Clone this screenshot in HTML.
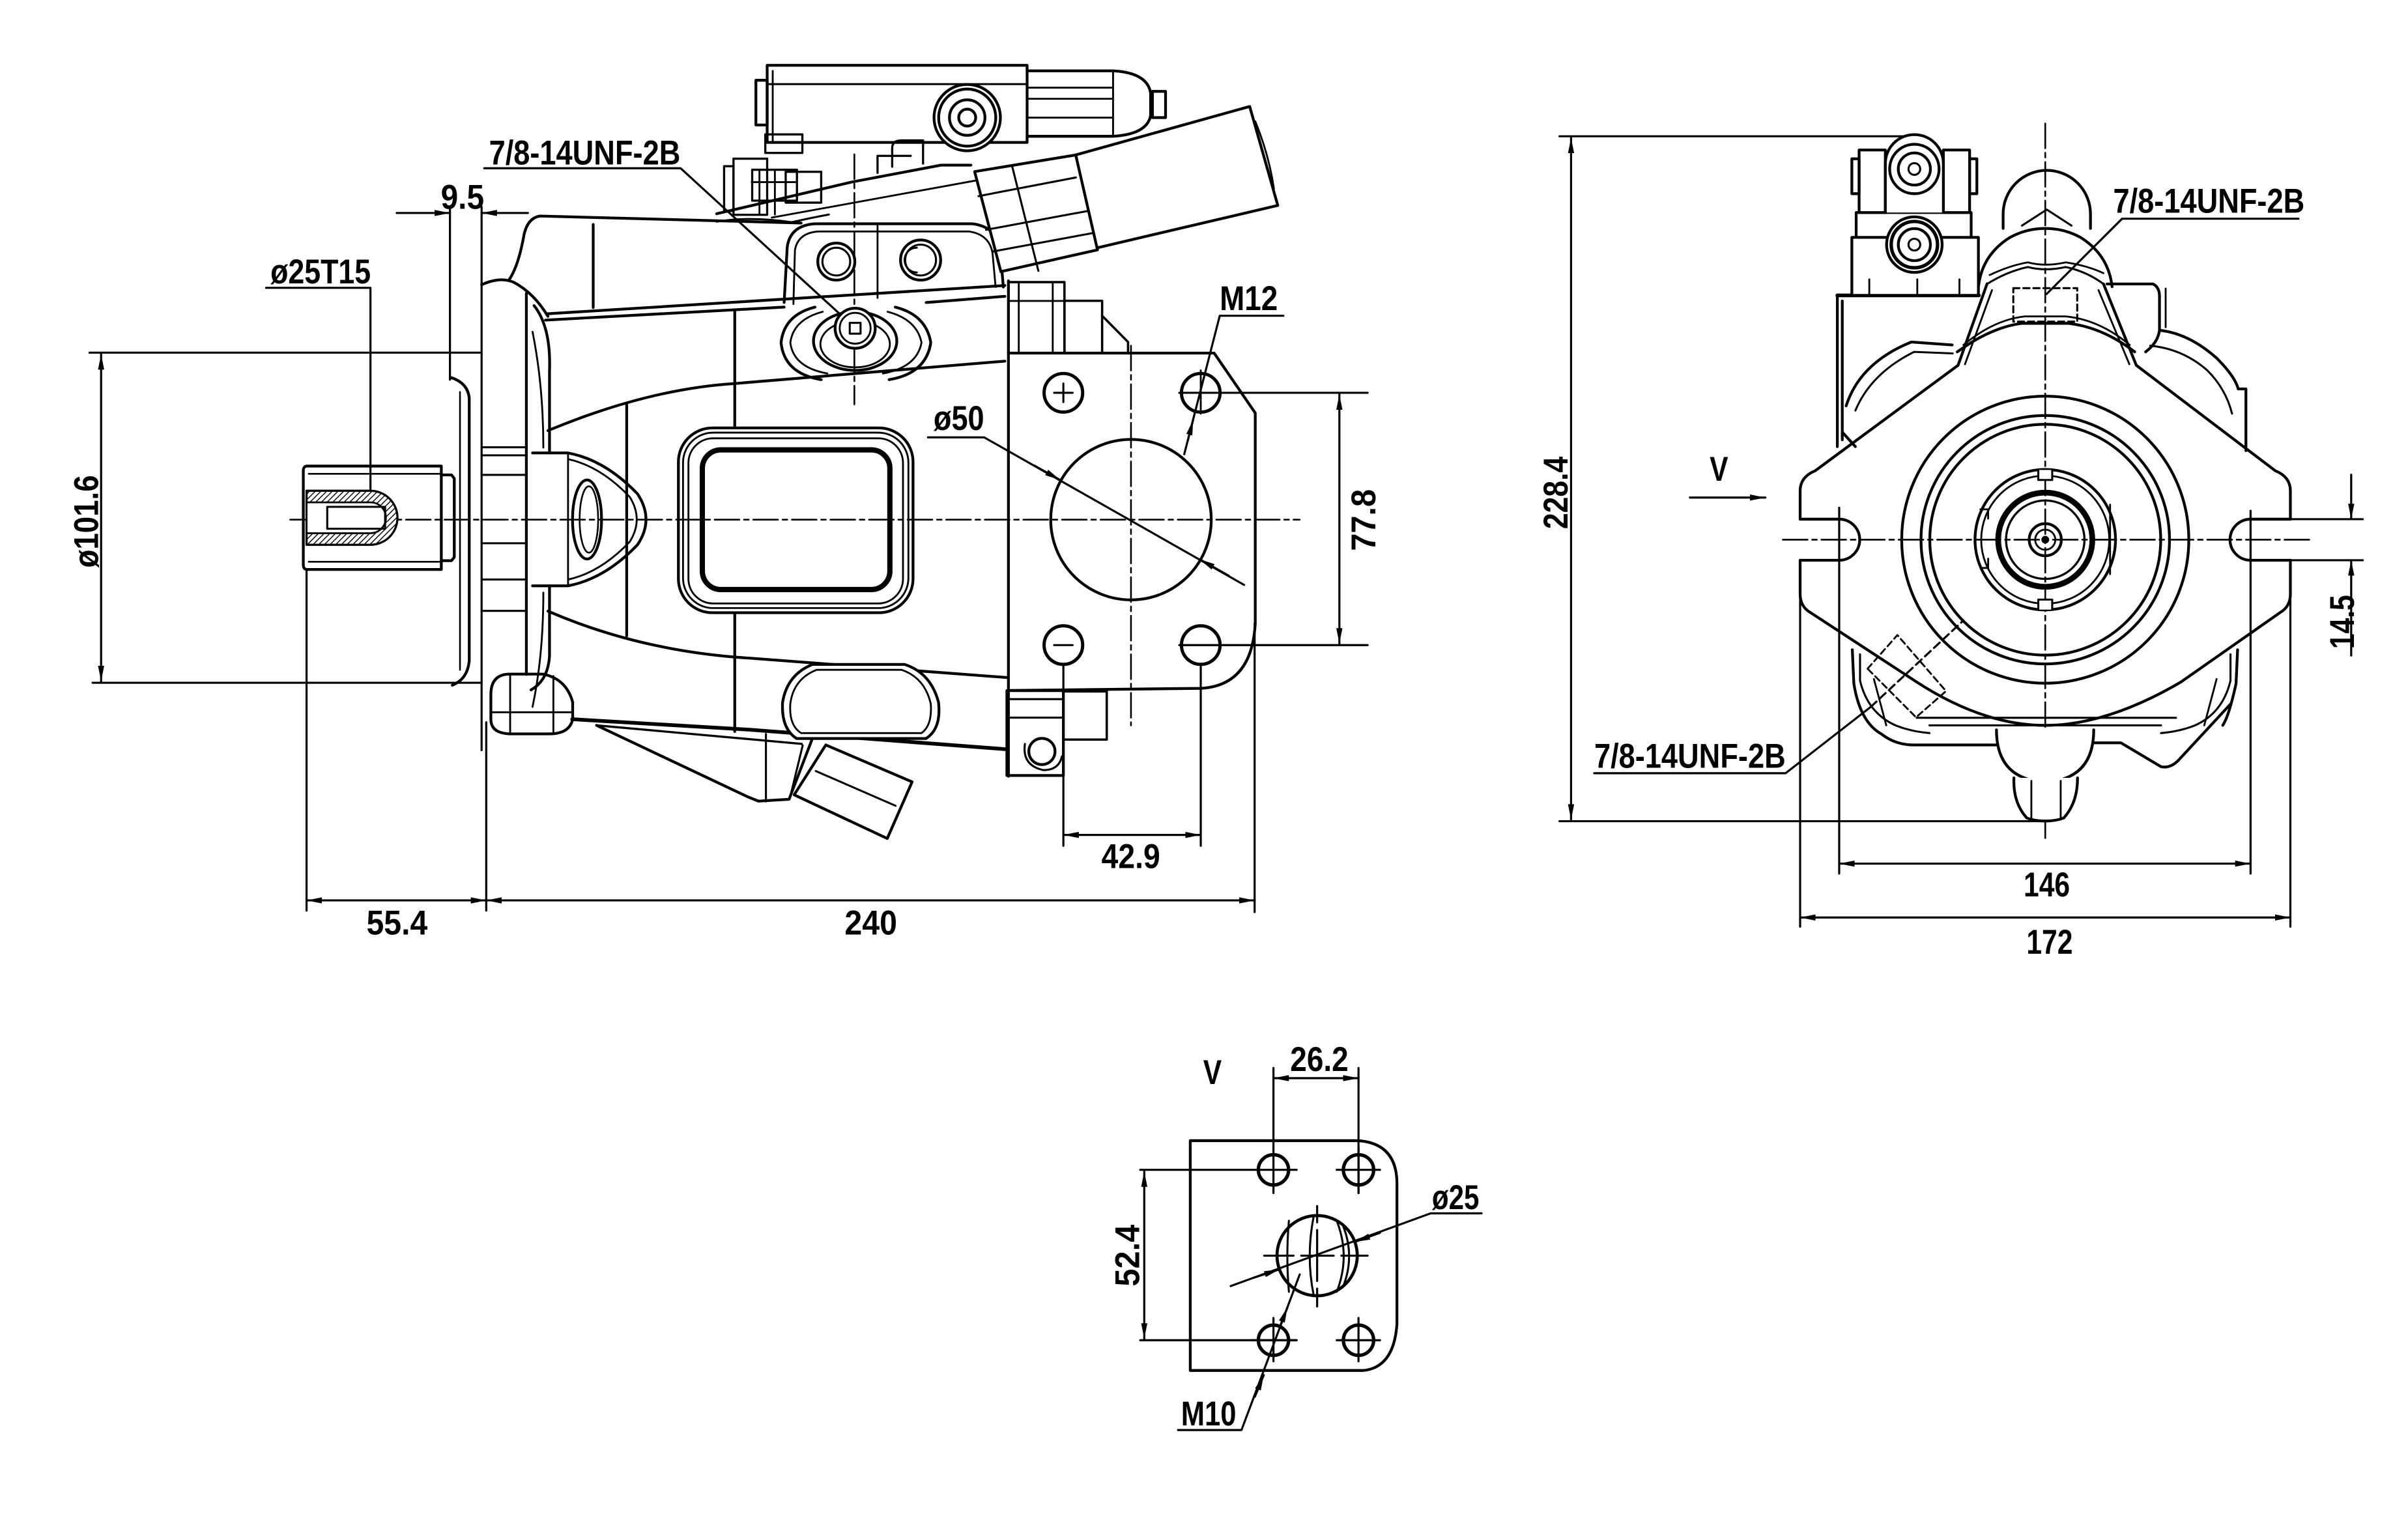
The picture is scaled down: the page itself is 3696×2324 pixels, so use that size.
<!DOCTYPE html>
<html><head><meta charset="utf-8"><title>Pump dimension drawing</title>
<style>
html,body{margin:0;padding:0;background:#fff;width:3696px;height:2324px;overflow:hidden}
svg{display:block}
text{font-family:"Liberation Sans",Arial,sans-serif;font-weight:bold;font-size:22.5px;fill:#000;stroke:none}
</style></head><body>
<svg xmlns="http://www.w3.org/2000/svg" width="3696" height="2324" viewBox="0 0 1560 981" preserveAspectRatio="none">
<defs>
<marker id="a" viewBox="0 0 10 4" refX="10" refY="2" markerWidth="10" markerHeight="4" markerUnits="userSpaceOnUse" orient="auto-start-reverse"><path d="M0,0L10,2L0,4z" fill="#000" stroke="none"/></marker>
<pattern id="h" width="2.6" height="2.6" patternUnits="userSpaceOnUse" patternTransform="rotate(45)"><rect width="2.6" height="2.6" fill="#fff"/><line x1="0" y1="0" x2="0" y2="2.6" stroke="#000" stroke-width="1.2"/></pattern>
</defs>
<rect width="1560" height="981" fill="#fff"/>

<g fill="none" stroke="#000" stroke-width="1.8" stroke-linejoin="round" stroke-linecap="round">

<!-- ================= LEFT VIEW : DIMENSIONS ================= -->
<g stroke-width="1.35">
  <line x1="58" y1="228.5" x2="311" y2="228.5"/>
  <line x1="60" y1="442.4" x2="312" y2="442.4"/>
  <line x1="65.5" y1="229.5" x2="65.5" y2="441.4" marker-start="url(#a)" marker-end="url(#a)"/>
  <line x1="257" y1="138" x2="291.5" y2="138" marker-end="url(#a)"/>
  <line x1="342" y1="138" x2="312" y2="138" marker-end="url(#a)"/>
  <line x1="291.5" y1="134" x2="291.5" y2="246"/>
  <line x1="312" y1="134" x2="312" y2="486"/>
  <polyline points="172.4,186.5 240,186.5 240,340"/>
  <polyline points="313.7,109 440.9,109 551.2,210"/>
  <line x1="198.6" y1="369" x2="198.6" y2="590"/>
  <line x1="315" y1="468" x2="315" y2="590"/>
  <line x1="812.8" y1="404" x2="812.8" y2="591"/>
  <line x1="198.6" y1="583.4" x2="315" y2="583.4" marker-start="url(#a)" marker-end="url(#a)"/>
  <line x1="315" y1="583.4" x2="812.8" y2="583.4" marker-start="url(#a)" marker-end="url(#a)"/>
  <line x1="688.9" y1="431" x2="688.9" y2="548"/>
  <line x1="777.9" y1="431" x2="777.9" y2="548"/>
  <line x1="688.9" y1="541" x2="777.9" y2="541" marker-start="url(#a)" marker-end="url(#a)"/>
  <line x1="764" y1="254.5" x2="886" y2="254.5"/>
  <line x1="764" y1="418" x2="886" y2="418"/>
  <line x1="867.7" y1="255.5" x2="867.7" y2="417" marker-start="url(#a)" marker-end="url(#a)"/>
  <polyline points="831.4,204.6 790.2,204.6 767.2,294.3"/>
  <line x1="769.5" y1="285.5" x2="773" y2="272" marker-end="url(#a)"/>
  <polyline points="601.2,283.4 637.6,283.4 806,379"/>
  <line x1="670" y1="301.6" x2="686.8" y2="311" marker-end="url(#a)"/>
  <line x1="796" y1="373" x2="777.2" y2="362.4" marker-end="url(#a)"/>
</g>
<g stroke-width="1.1" stroke-dasharray="16 3 3 3">
  <line x1="188" y1="336.7" x2="842" y2="336.7"/>
  <line x1="732.7" y1="224" x2="732.7" y2="470"/>
  <line x1="553.5" y1="100" x2="553.5" y2="262"/>
</g>

<!-- ================= LEFT VIEW : BODY ================= -->
<path d="M199,302H285.9V369H199Q196.5,369 196.5,366V305Q196.5,302 199,302Z"/>
<path d="M285.9,307.7H292.5L294.3,310V361L292.5,363.3H285.9"/>
<path d="M200,307H285M200,364H285" stroke-width="1.1"/>
<path d="M198.6,318H240A17.5,17.5 0 0 1 240,353H198.6Z" fill="url(#h)" stroke-width="1.4"/>
<path d="M198.6,325.5H240A10,10 0 0 1 240,345.5H198.6Z" fill="#fff" stroke-width="1.2"/>
<rect x="212" y="328.4" width="37.5" height="14.2" stroke-width="1.3"/>
<path d="M292,244.6Q303,248 304,258V428Q303,440 293,444"/>
<path d="M298,254V434" stroke-width="1.1"/>
<path d="M312,184.5Q324,179 333,183Q346,190 355,205"/>
<path d="M330,181Q336,172 339.5,152Q342,141 350,140L519,144.5"/>
<path d="M341,190V437"/>
<path d="M346,198Q357,212 356,240V293.5"/>
<path d="M356,379.6V425Q355,441 344,447"/>
<path d="M345,215Q352,250 352,290M345,458Q352,425 352,384" stroke-width="1.2"/>
<path d="M313,289.8H341M313,295H341M313,307.7H341M313,352H341M313,375.5H341M313,395.8H341" stroke-width="1.3"/>
<path d="M345,293.5H368Q392,298 413,320Q424,336.6 413,353Q392,375 368,379.6H345"/>
<path d="M368,297.5Q389,302 408,322Q417,336.6 408,351Q389,371 368,375.5" stroke-width="1.2"/>
<line x1="368" y1="293.5" x2="368" y2="379.6" stroke-width="1.2"/>
<ellipse cx="380.3" cy="336.6" rx="9.4" ry="25.6"/>
<ellipse cx="381.5" cy="336.6" rx="6" ry="21.5" stroke-width="1.1"/>
<path d="M355,279Q420,252 476,248.5L651,234"/>
<path d="M355,396Q415,422 485,426.4L652.3,439"/>
<line x1="406" y1="262" x2="406" y2="412"/>
<line x1="476" y1="202" x2="476" y2="277.3"/>
<line x1="476" y1="397" x2="476" y2="474"/>
<line x1="384.3" y1="145.4" x2="384.3" y2="199.3"/>
<line x1="354.7" y1="203.3" x2="651" y2="185"/>
<line x1="353.4" y1="207.4" x2="508" y2="199"/>
<line x1="600" y1="196" x2="651" y2="192"/>
<rect x="439.5" y="277.3" width="152" height="119.7" rx="22"/>
<rect x="442.5" y="280.3" width="146" height="113.7" rx="19.5" stroke-width="1.2"/>
<rect x="446" y="284" width="139" height="107" rx="16" stroke-width="1.2"/>
<rect x="455" y="291.5" width="121.5" height="90.5" rx="12" stroke-width="3.4"/>
<path d="M528,199Q508,204 506,222Q508,242 532,246"/>
<path d="M533,202Q514,207 512,222Q514,238 536,242" stroke-width="1.2"/>
<path d="M580,199Q600,204 603,222Q600,242 576,246"/>
<path d="M575,202Q594,207 597,222Q594,238 572,242" stroke-width="1.2"/>
<ellipse cx="554" cy="221" rx="27" ry="19"/>
<ellipse cx="554" cy="223" rx="22.5" ry="15" stroke-width="1.2"/>
<circle cx="554" cy="212.7" r="13" fill="#fff"/>
<circle cx="554" cy="212.7" r="10" stroke-width="1.2"/>
<rect x="550.5" y="209.2" width="7" height="7" stroke-width="1.3"/>
<path d="M508,196L510,160Q512,146 528,145L630,145Q646,147 648,162L650,186"/>
<path d="M514,197L515,162Q517,151 530,150L628,150Q641,152 643,164L645,186" stroke-width="1.2"/>
<line x1="568.5" y1="146" x2="568.5" y2="193" stroke-width="1.2"/>
<circle cx="541.8" cy="169.5" r="12"/>
<circle cx="541.8" cy="169.5" r="9" stroke-width="1.3"/>
<circle cx="596.4" cy="168.5" r="13"/>
<circle cx="596.4" cy="168.5" r="10" stroke-width="1.3"/>
<path d="M594,160.5A8,8 0 0 0 594,176.5" stroke-width="1.2"/>
<polyline points="464.3,138.5 551.5,118 609.6,107 629,107"/>
<path d="M464.3,143.6Q486,140 512.8,144Q526,141 537,139" stroke-width="1.3"/>
<path d="M500,141L632,117" stroke-width="1.2"/>
<rect x="497" y="42.3" width="168.4" height="50"/>
<line x1="500.6" y1="46" x2="500.6" y2="92" stroke-width="1.2"/>
<line x1="497" y1="54.5" x2="665" y2="54.5" stroke-width="1.3"/>
<rect x="489.7" y="52" width="7.3" height="29"/>
<path d="M665.4,45.9H721.1Q743,47 745.4,60V75Q743,87 721.1,88.3H665.4"/>
<path d="M665.4,56.8H721M665.4,64H721M665.4,76.2H721M721.1,46V88.3" stroke-width="1.2"/>
<rect x="746.6" y="59.2" width="8.5" height="17"/>
<circle cx="626.6" cy="76.2" r="21.5" fill="#fff"/>
<circle cx="626.6" cy="76.2" r="18.5" stroke-width="1.8"/>
<circle cx="626.6" cy="76.2" r="11.5"/>
<circle cx="626.6" cy="76.2" r="5.5"/>
<path d="M578,108V96Q578,91 584,91H598V106" stroke-width="1.4"/>
<path d="M568.5,112V101H590" stroke-width="1.4"/>
<rect x="475.2" y="102.8" width="21.8" height="36.4" stroke-width="1.4"/>
<rect x="469.1" y="107.7" width="6.1" height="29" stroke-width="1.4"/>
<rect x="487.3" y="110" width="29" height="20" stroke-width="1.4"/>
<rect x="495.8" y="87.1" width="24" height="12" stroke-width="1.4"/>
<rect x="509" y="111.3" width="23" height="20" stroke-width="1.4"/>
<path d="M487,118H516M492,110V139M502,110V139" stroke-width="1.2"/>
<polygon points="696.9,100.4 809.6,69 827.8,133.1 709,161" fill="#fff"/>
<path d="M813.2,78.6Q822,100 825.3,122.2" stroke-width="1.2"/>
<polygon points="631.4,111.2 696.9,100.4 711,161.9 648.4,176" fill="#fff"/>
<path d="M655.7,107.7L672.7,175.5M633.9,127.1L697,115M638.8,148.9L704.2,136.8M643,163L708,151" stroke-width="1.3"/>
<rect x="653.3" y="182.8" width="36.3" height="46" stroke-width="1.5"/>
<path d="M660,183V228.8M682,183V228.8M653.3,195H689.6" stroke-width="1.2"/>
<path d="M689.6,228V194.9H714V228" stroke-width="1.5"/>
<path d="M714,204.6L730.8,221.6V229" stroke-width="1.5"/>
<line x1="653.3" y1="182" x2="653.3" y2="503"/>
<path d="M653.3,228.8H786.6L813.2,267.6V404Q811,444 778.3,446L653.3,447.4"/>
<circle cx="688.9" cy="254.5" r="12.5" stroke-width="2.1"/>
<path d="M688.9,248.5V260.5M682.9,254.5H694.9" stroke-width="1.3"/>
<circle cx="777.9" cy="254.5" r="12.5" stroke-width="2.1"/>
<line x1="777.9" y1="240" x2="777.9" y2="268" stroke-width="1.2"/>
<circle cx="688.9" cy="418" r="12.5" stroke-width="2.1"/>
<path d="M682.9,418H694.9" stroke-width="1.3"/>
<circle cx="777.9" cy="418" r="12.5" stroke-width="2.1"/>
<circle cx="732.7" cy="336.7" r="52"/>
<rect x="652.3" y="447.5" width="36.6" height="55"/>
<path d="M652.3,453H688.9M652.3,465H688.9" stroke-width="1.3"/>
<path d="M688.9,448H717V479.2H688.9" stroke-width="1.5"/>
<circle cx="675" cy="486.9" r="8.5"/>
<path d="M664,482Q662,496 676,499Q686,499 688,490" stroke-width="1.3"/>
<path d="M318,450Q318,437 330,436.8H352Q367,440 371,455V466Q369,475.5 356,475.5H330Q318,475 318,466Z"/>
<path d="M330.5,437V475.5M358.5,438V475.5M318,461.5H371" stroke-width="1.2"/>
<path d="M370.7,466L485.4,472.8L652.3,485.5" stroke-width="2.4"/>
<path d="M386.5,470L519.4,482" stroke-width="1.4"/>
<path d="M526.4,430.5H586Q603,436 608,455Q610,472 600,478.5H516Q506,472 507,455Q510,437 526.4,430.5Z" fill="#fff"/>
<path d="M529,434H584Q599,439 603,456Q604,470 597,475H519Q511,470 512,456Q514,440 529,434Z" stroke-width="1.2"/>
<polyline points="386.5,470 484.4,516.3 491.4,519.1 511.2,517.9 526.3,478.5"/>
<line x1="496.2" y1="475.6" x2="496.2" y2="519.3" stroke-width="1.3"/>
<polygon points="535,482.7 590.9,506.6 574.8,543.3 514.5,515" fill="#fff"/>
<path d="M528.5,499.6L580.2,522.1M520,483L512,516" stroke-width="1.3"/>

<!-- ================= RIGHT VIEW ================= -->
<g stroke-width="1.35">
  <line x1="1010.3" y1="88.3" x2="1245" y2="88.3"/>
  <line x1="1010.3" y1="532.1" x2="1322" y2="532.1"/>
  <line x1="1017.8" y1="89.3" x2="1017.8" y2="531.1" marker-start="url(#a)" marker-end="url(#a)"/>
  <line x1="1094.8" y1="322.4" x2="1143.7" y2="322.4" marker-end="url(#a)"/>
  <line x1="1191.5" y1="329" x2="1191.5" y2="566"/>
  <line x1="1458" y1="331" x2="1458" y2="566"/>
  <line x1="1191.5" y1="559.6" x2="1458" y2="559.6" marker-start="url(#a)" marker-end="url(#a)"/>
  <line x1="1166.2" y1="388" x2="1166.2" y2="600.4"/>
  <line x1="1483.8" y1="388" x2="1483.8" y2="600.4"/>
  <line x1="1166.2" y1="594.5" x2="1483.8" y2="594.5" marker-start="url(#a)" marker-end="url(#a)"/>
  <line x1="1470" y1="336.4" x2="1530.7" y2="336.4"/>
  <line x1="1470" y1="363" x2="1530.7" y2="363"/>
  <line x1="1523.2" y1="307.6" x2="1523.2" y2="336.4" marker-end="url(#a)"/>
  <line x1="1523.2" y1="424.7" x2="1523.2" y2="363" marker-end="url(#a)"/>
  <polyline points="1489,141.7 1374.8,141.7 1325.9,190.5"/>
  <polyline points="1032.8,501 1156.8,501 1212,458"/>
  <line x1="1212" y1="458" x2="1272" y2="402" stroke-dasharray="5 3"/>
</g>
<g stroke-width="1.1" stroke-dasharray="16 3 3 3">
  <line x1="1325" y1="80" x2="1325" y2="543"/>
  <line x1="1155" y1="349.7" x2="1498" y2="349.7"/>
</g>

<path d="M1166.2,336.4V318Q1166.2,309 1176,305L1268.5,236.7"/>
<path d="M1166.2,363V385Q1166.2,393 1173,397L1241.7,441.9Q1285,470 1325,470Q1365,470 1412.9,441.9L1477,397Q1483.8,393 1483.8,385V363"/>
<path d="M1483.8,336.4V318Q1483.8,309 1474,305L1384,236.7"/>
<path d="M1166.2,336.4H1191.5A13.3,13.3 0 0 1 1191.5,363H1166.2"/>
<path d="M1483.8,336.4H1458A13.3,13.3 0 0 0 1458,363H1483.8"/>
<path d="M1268.5,236.7L1287.3,183.9M1384,236.7L1362.7,183.9"/>
<path d="M1273,236L1290.5,188M1379.5,236L1359.5,188" stroke-width="1.2"/>
<path d="M1281.7,185.8Q1284,165 1302.4,153.7Q1313,148 1325,148Q1337,148 1347.6,153.7Q1366,165 1368.3,185.8"/>
<path d="M1287.3,184Q1300,176 1313.7,173Q1325,176 1338.2,173Q1352,176 1362.7,184" stroke-width="1.3"/>
<path d="M1289,178.2Q1302,172 1313.7,170Q1325,173 1338.2,170Q1352,172 1362.7,177" stroke-width="1.2"/>
<path d="M1297.7,148V138.7A28.3,28.3 0 0 1 1354.3,138.7V148"/>
<path d="M1309.9,146.2L1326,135.8L1342,146.2" stroke-width="1.3"/>
<rect x="1304.3" y="186.7" width="41.4" height="21.7" stroke-width="1.3" stroke-dasharray="4 2.5"/>
<path d="M1268,228Q1290,212 1310,209.5H1340Q1362,212 1383,228"/>
<path d="M1272,223.5Q1292,207 1312,205H1338Q1360,207 1379.7,223.5" stroke-width="1.2"/>
<path d="M1190.3,191.4H1282" stroke-width="2.4"/>
<path d="M1190.3,191.4V289.4M1193.5,195V285M1193.5,280L1202,289.4" />
<rect x="1199.7" y="153.8" width="82" height="37.6" fill="#fff"/>
<path d="M1211,181V191.4M1242.1,181V191.4M1269.4,181V191.4" stroke-width="1.2"/>
<rect x="1202.5" y="137.7" width="74.5" height="16.1" fill="#fff"/>
<rect x="1204.4" y="97.2" width="17" height="40.5" fill="#fff"/>
<rect x="1259" y="97.2" width="17" height="40.5" fill="#fff"/>
<rect x="1199.7" y="102.9" width="4.7" height="22.6"/>
<rect x="1276" y="102.9" width="4.7" height="22.6"/>
<path d="M1221.4,137.7V106A18.8,18.8 0 0 1 1259,106V137.7" fill="#fff"/>
<circle cx="1240.2" cy="109.5" r="16"/>
<circle cx="1240.2" cy="109.5" r="10.4"/>
<circle cx="1240.2" cy="109.5" r="3.8" stroke-width="1.3"/>
<circle cx="1240.2" cy="158.5" r="18" fill="#fff"/>
<circle cx="1240.2" cy="158.5" r="15" stroke-width="2.2"/>
<circle cx="1240.2" cy="158.5" r="10.4"/>
<circle cx="1240.2" cy="158.5" r="3.8" stroke-width="1.3"/>
<path d="M1365,184H1394.8Q1399,186 1399,192V214Q1398,222 1390,228"/>
<path d="M1399,214Q1418,216 1436,232Q1448,244 1450,252H1455V292"/>
<path d="M1393,224Q1414,226 1430,240Q1442,252 1446,268" stroke-width="1.3"/>
<path d="M1403,187V212" stroke-width="1.2"/>
<path d="M1196,263Q1205,235 1238.3,221.6L1264.7,223.5"/>
<path d="M1202,266Q1212,242 1240,228L1265,229" stroke-width="1.3"/>
<circle cx="1325" cy="349.7" r="93"/>
<circle cx="1325" cy="349.7" r="80.5"/>
<circle cx="1325" cy="349.7" r="74.8"/>
<circle cx="1325" cy="349.7" r="45.5"/>
<circle cx="1325" cy="349.7" r="41.5" stroke-width="1.2"/>
<path d="M1320.5,304.5V311H1329.5V304.5M1320.5,395V388.5H1329.5V395" stroke-width="1.3" fill="#fff"/>
<path d="M1283,330H1288V336M1283,368H1288V362M1367,327V372" stroke-width="1.2"/>
<circle cx="1325" cy="349.7" r="30.5" stroke-width="3.7"/>
<circle cx="1325" cy="349.7" r="25.4" stroke-width="1.4"/>
<circle cx="1325" cy="349.7" r="10.4"/>
<circle cx="1325" cy="349.7" r="6.5" stroke-width="1.2"/>
<circle cx="1325" cy="349.7" r="1.6" fill="#000"/>
<path d="M1200,421L1201,443Q1205,468 1219,475.7Q1228,482.7 1240,482.7H1293.4"/>
<path d="M1205,424V441Q1210,462 1228,470Q1238,474 1250,475" stroke-width="1.3"/>
<path d="M1449.6,421L1448.6,443Q1444,464 1440,470"/>
<path d="M1445,424V441Q1440,462 1422,470Q1412,474 1400,475" stroke-width="1.3"/>
<path d="M1356.4,481.3H1374L1400,496.8Q1406,498 1411.3,492.6L1445.2,456"/>
<path d="M1241.7,465.1H1409.7M1250,470H1400" stroke-width="1.3"/>
<path d="M1214,440L1222,470M1436,440L1428,470" stroke-width="1.2"/>
<path d="M1209.9,433.3L1229.2,411.5L1260.7,447.8L1241.3,464.8Z" stroke-width="1.2" stroke-dasharray="4 2.5"/>
<path d="M1293.4,472.9Q1293.4,505 1325,506.7Q1356.4,505 1356.4,472.9" fill="#fff"/>
<path d="M1304.7,504Q1304,520 1313,530Q1318,532 1325,532Q1332,532 1337,530Q1346,520 1345.9,504" fill="#fff"/>
<path d="M1316,506V531M1335,506V531" stroke-width="1.2"/>

<!-- ================= BOTTOM VIEW "V" ================= -->
<path d="M771.1,739.1H880Q905,741 905,767V858Q903,886 883.3,888H771.1Z"/>
<g stroke-width="1.35">
  <line x1="825" y1="692" x2="825" y2="773"/>
  <line x1="880.1" y1="692" x2="880.1" y2="773"/>
  <line x1="825" y1="698.6" x2="880.1" y2="698.6" marker-start="url(#a)" marker-end="url(#a)"/>
  <line x1="738.7" y1="758" x2="840" y2="758"/>
  <line x1="738.7" y1="868.4" x2="840" y2="868.4"/>
  <line x1="741.3" y1="759" x2="741.3" y2="867.4" marker-start="url(#a)" marker-end="url(#a)"/>
  <path d="M866,758H894M880.1,773V744M811,868.4H840M825,854V882M866,868.4H894M880.1,854V882"/>
  <path d="M819,813.6H838M843,813.6H864M869,813.6H886M853.3,781.5V792M853.3,797V830M853.3,835V846.5"/>
  <polyline points="797.3,833.3 926.8,786.2 959.8,786.2"/>
  <line x1="812" y1="828" x2="828.9" y2="822.5" marker-end="url(#a)"/>
  <line x1="894" y1="798.8" x2="877.7" y2="804.7" marker-end="url(#a)"/>
  <polyline points="763.2,926.6 804.3,926.6 842,825.8"/>
  <line x1="813" y1="905" x2="818.7" y2="891" marker-end="url(#a)"/>
  <line x1="829" y1="860" x2="834.1" y2="847" marker-end="url(#a)"/>
</g>
<circle cx="825" cy="758" r="9.8" stroke-width="2.2"/>
<circle cx="880.1" cy="758" r="9.8" stroke-width="2.2"/>
<circle cx="825" cy="868.4" r="9.8" stroke-width="2.2"/>
<circle cx="880.1" cy="868.4" r="9.8" stroke-width="2.2"/>
<circle cx="853.3" cy="813.6" r="26" stroke-width="2"/>
<path d="M835,791Q833,814 835,837M851,788.5Q846,814 851,839M866,791Q875,814 866,837M870,794Q878,814 870,834" stroke-width="1.3"/>
</g>

<!-- ================= TEXT ================= -->
<text x="207.7" y="183.7" text-anchor="middle" textLength="65" lengthAdjust="spacingAndGlyphs">ø25T15</text>
<text x="299.6" y="135.2" text-anchor="middle" textLength="28" lengthAdjust="spacingAndGlyphs">9.5</text>
<text x="378.8" y="106.5" text-anchor="middle" textLength="124" lengthAdjust="spacingAndGlyphs">7/8-14UNF-2B</text>
<text x="809" y="201" text-anchor="middle" textLength="37.6" lengthAdjust="spacingAndGlyphs">M12</text>
<text x="621.2" y="278.5" text-anchor="middle" textLength="32.8" lengthAdjust="spacingAndGlyphs">ø50</text>
<text x="732.6" y="562.5" text-anchor="middle" textLength="38" lengthAdjust="spacingAndGlyphs">42.9</text>
<text x="257.2" y="605.6" text-anchor="middle" textLength="39.6" lengthAdjust="spacingAndGlyphs">55.4</text>
<text x="564.2" y="605.6" text-anchor="middle" textLength="34" lengthAdjust="spacingAndGlyphs">240</text>
<text transform="translate(63.5,337.9) rotate(-90)" text-anchor="middle" textLength="60" lengthAdjust="spacingAndGlyphs">ø101.6</text>
<text transform="translate(891,337) rotate(-90)" text-anchor="middle" textLength="40" lengthAdjust="spacingAndGlyphs">77.8</text>
<text transform="translate(1015.5,319.3) rotate(-90)" text-anchor="middle" textLength="47" lengthAdjust="spacingAndGlyphs">228.4</text>
<text x="1113.6" y="311.5" text-anchor="middle" textLength="12" lengthAdjust="spacingAndGlyphs">V</text>
<text x="1431" y="137.8" text-anchor="middle" textLength="124" lengthAdjust="spacingAndGlyphs">7/8-14UNF-2B</text>
<text x="1094.8" y="497.5" text-anchor="middle" textLength="124" lengthAdjust="spacingAndGlyphs">7/8-14UNF-2B</text>
<text transform="translate(1525,403) rotate(-90)" text-anchor="middle" textLength="35" lengthAdjust="spacingAndGlyphs">14.5</text>
<text x="1326" y="580.8" text-anchor="middle" textLength="30" lengthAdjust="spacingAndGlyphs">146</text>
<text x="1327.8" y="618" text-anchor="middle" textLength="30" lengthAdjust="spacingAndGlyphs">172</text>
<text x="785.5" y="702.4" text-anchor="middle" textLength="12" lengthAdjust="spacingAndGlyphs">V</text>
<text x="854.7" y="694" text-anchor="middle" textLength="37.7" lengthAdjust="spacingAndGlyphs">26.2</text>
<text x="943" y="783.5" text-anchor="middle" textLength="30.6" lengthAdjust="spacingAndGlyphs">ø25</text>
<text x="783" y="923.7" text-anchor="middle" textLength="35.8" lengthAdjust="spacingAndGlyphs">M10</text>
<text transform="translate(738,813.5) rotate(-90)" text-anchor="middle" textLength="40" lengthAdjust="spacingAndGlyphs">52.4</text>
</svg>
</body></html>
